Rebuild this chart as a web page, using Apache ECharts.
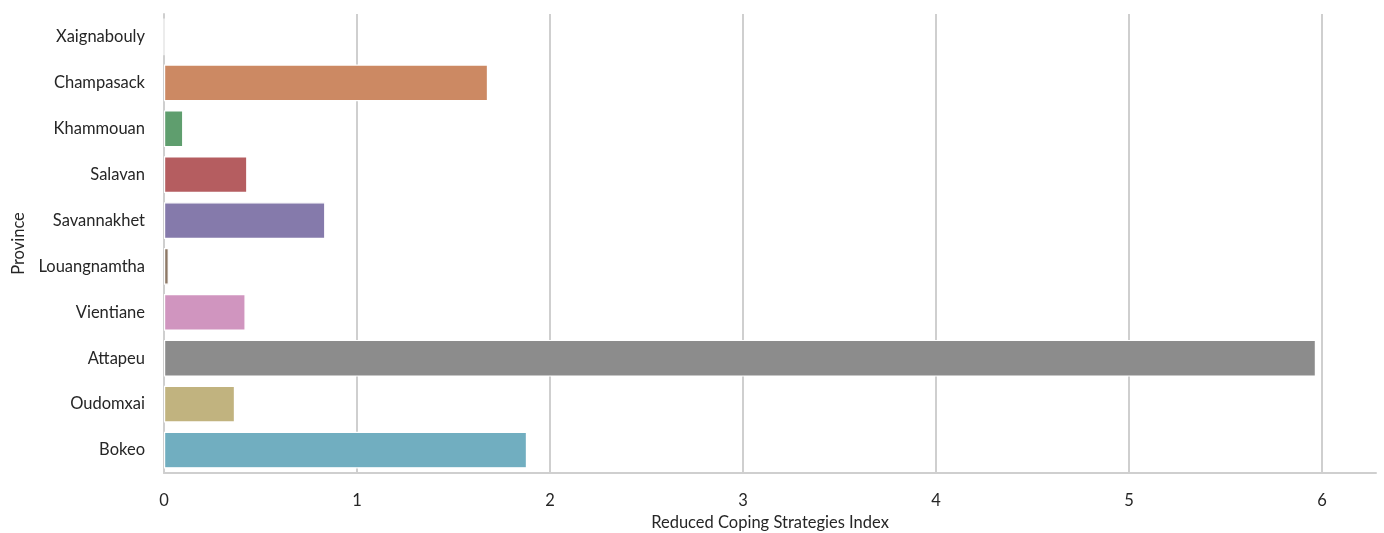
<!DOCTYPE html>
<html>
<head>
<meta charset="utf-8">
<script src="https://cdn.jsdelivr.net/npm/echarts@6/dist/echarts.min.js"></script>
<style>
html,body{margin:0;padding:0;background:#fff;overflow:hidden;}
#chart{width:1384px;height:533px;}
</style>
</head>
<body>
<div id="chart"></div>
<script>
const provinces = ["Xaignabouly","Champasack","Khammouan","Salavan","Savannakhet","Louangnamtha","Vientiane","Attapeu","Oudomxai","Bokeo"];
const rcsiValues = [0, 1.679, 0.10, 0.432, 0.836, 0.025, 0.423, 5.969, 0.368, 1.881];
const xTicks = [0, 1, 2, 3, 4, 5, 6];
const palette = ["#5975a4","#cc8963","#5f9e6e","#b55d60","#857aab","#8d7866","#d095bf","#8c8c8c","#c1b37f","#71aec0"];

const FONT = "Lato";
const chart = echarts.init(document.getElementById('chart'), null, {renderer: 'canvas', width: 1384, height: 533});
const gridColor = '#cfcfcf';
const xMax = 6.28;
chart.setOption({
  animation: false,
  backgroundColor: '#ffffff',
  grid: {left: 164, right: 8, top: 14, bottom: 60, containLabel: false, outerBoundsMode: 'none'},
  xAxis: {
    type: 'value',
    min: 0,
    max: xMax,
    interval: 1,
    name: 'Reduced Coping Strategies Index',
    nameLocation: 'middle',
    nameGap: 41,
    nameTextStyle: {fontFamily: FONT, fontSize: 16.5, color: '#262626'},
    axisLine: {show: true, lineStyle: {color: gridColor, width: 2}},
    axisTick: {show: false},
    axisLabel: {
      fontFamily: FONT, fontSize: 16.5, color: '#262626', margin: 19,
      formatter: v => (xTicks.indexOf(v) >= 0 ? String(v) : '')
    },
    splitLine: {show: true, lineStyle: {color: [gridColor, gridColor, gridColor, gridColor, gridColor, gridColor, gridColor, 'rgba(0,0,0,0)'], width: 2}}
  },
  yAxis: {
    type: 'category',
    data: provinces,
    inverse: true,
    name: 'Province',
    nameLocation: 'middle',
    nameGap: 137,
    nameRotate: 90,
    nameTextStyle: {fontFamily: FONT, fontSize: 16.5, color: '#262626'},
    axisLine: {show: true, lineStyle: {color: gridColor, width: 2}},
    axisTick: {show: false},
    axisLabel: {fontFamily: FONT, fontSize: 16.5, color: '#262626', margin: 19},
    splitLine: {show: false}
  },
  series: [{
    type: 'bar',
    barCategoryGap: '20%',
    data: rcsiValues.map((v, i) => ({value: v, itemStyle: {color: palette[i]}})),
    itemStyle: {borderColor: '#ffffff', borderWidth: 1.2},
    z: 3
  }]
});
</script>
</body>
</html>
